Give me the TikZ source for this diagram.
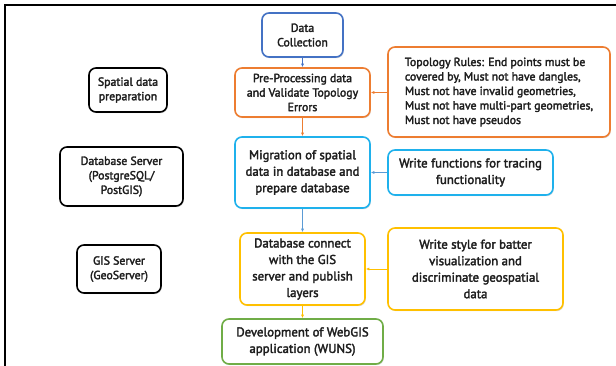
\documentclass[tikz,border=0pt]{standalone}
\usepackage{fontspec}
\setmainfont{PT Sans}[FakeBold=2.5]
\usetikzlibrary{arrows.meta,shadows}
\definecolor{cblue}{HTML}{4472C4}
\definecolor{corange}{HTML}{ED7D31}
\definecolor{ccyan}{HTML}{1FB1EC}
\definecolor{cgold}{HTML}{FFC000}
\definecolor{cgreen}{HTML}{70AD47}
\definecolor{cline}{HTML}{5B9BD5}
\definecolor{ctext}{HTML}{1E1E1E}
\tikzset{
  box/.style={draw, rounded corners=7pt, line width=1.6pt, align=center, inner sep=2pt,
    text=ctext, fill=white, font=\fontsize{11.8}{14.5}\selectfont,
    drop shadow={shadow xshift=0.8pt, shadow yshift=-1.2pt, opacity=0.25}},
  big/.style={font=\fontsize{12.8}{16.5}\selectfont},
  conn/.style={-{Latex[length=3.5pt,width=3pt]}, line width=0.7pt},
}
\begin{document}
\begin{tikzpicture}[x=1pt,y=-1pt]
\useasboundingbox (0,0) rectangle (616,366);
\fill[white] (0,0) rectangle (616,366);
\draw[line width=1.8pt] (5,366) -- (5,5) -- (616,5);
% main column
\node[box, draw=cblue, minimum width=81pt, minimum height=44pt] (dc) at (302.5,35) {Data\\Collection};
\node[box, draw=corange, minimum width=135pt, minimum height=49pt] (pp) at (302.5,92.5) {Pre-Processing data\\and Validate Topology\\Errors};
\node[box, big, draw=ccyan, minimum width=135pt, minimum height=71pt] (mig) at (302.5,172.5) {Migration of spatial\\data in database and\\prepare database};
\node[box, big, draw=cgold, minimum width=125pt, minimum height=72pt] (dbc) at (302.5,269) {Database connect\\with the GIS\\server and publish\\layers};
\node[box, big, draw=cgreen, minimum width=161pt, minimum height=45pt] (dev) at (302.5,341.5) {Development of WebGIS\\application (WUNS)};
% right column
\node[box, draw=corange, minimum width=222pt, minimum height=90pt, align=left] (topo) at (499,92) {Topology Rules: End points must be\\covered by, Must not have dangles,\\Must not have invalid geometries,\\Must not have multi-part geometries,\\Must not have pseudos};
\node[box, big, draw=ccyan, minimum width=165pt, minimum height=45pt] (wf) at (470.5,172.5) {Write functions for tracing\\functionality};
\node[box, big, draw=cgold, minimum width=175pt, minimum height=82pt] (ws) at (475.5,269) {Write style for batter\\visualization and\\discriminate geospatial\\data};
% left column
\node[box, draw=black, minimum width=78pt, minimum height=44pt] (sp) at (128,90) {Spatial data\\preparation};
\node[box, draw=black, minimum width=123pt, minimum height=59pt] (dbs) at (121.5,176.5) {Database Server\\(PostgreSQL/\\PostGIS)};
\node[box, draw=black, minimum width=84pt, minimum height=48pt] (gis) at (119,269) {GIS Server\\(GeoServer)};
% connectors
\draw[conn, cblue] (dc) -- (pp);
\draw[conn, corange] (pp) -- (mig);
\draw[conn, cline] (mig) -- (dbc);
\draw[conn, cgold] (dbc) -- (dev);
\draw[conn, corange] (topo.west |- pp.east) -- (pp.east);
\draw[conn, cline] (wf) -- (mig);
\draw[conn, cgold] (ws) -- (dbc);
\end{tikzpicture}
\end{document}
